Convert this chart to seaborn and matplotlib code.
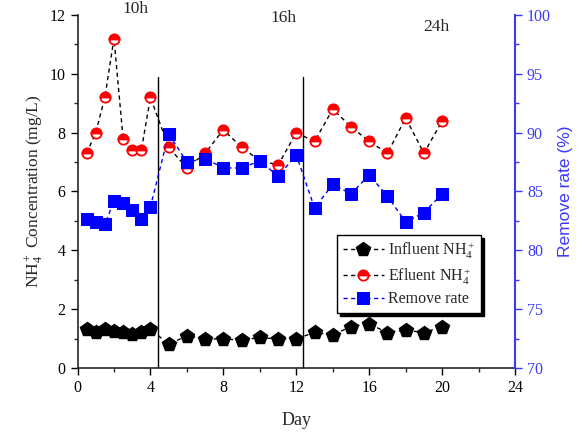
import matplotlib
matplotlib.use("Agg")
import matplotlib.pyplot as plt
import seaborn as sns
import pandas as pd
from matplotlib.ticker import MultipleLocator

# Sampling days and measured series
days = [0.5, 1, 1.5, 2, 2.5, 3, 3.5, 4,
        5, 6, 7, 8, 9, 10, 11, 12, 13, 14, 15, 16, 17, 18, 19, 20]
influent = [1.33, 1.22, 1.33, 1.27, 1.21, 1.16, 1.24, 1.33,
            0.8, 1.1, 0.98, 0.99, 0.94, 1.04, 0.98, 0.99, 1.21, 1.12, 1.41, 1.5, 1.2, 1.29, 1.2, 1.41]
effluent = [7.3, 8.0, 9.2, 11.2, 7.8, 7.4, 7.4, 9.2,
            7.5, 6.8, 7.3, 8.1, 7.5, 7.05, 6.9, 8.0, 7.7, 8.8, 8.2, 7.7, 7.3, 8.5, 7.3, 8.4]
remove_rate = [82.7, 82.4, 82.2, 84.2, 84.0, 83.4, 82.7, 83.7,
               89.9, 87.5, 87.8, 87.0, 87.0, 87.6, 86.3, 88.1, 83.6, 85.6, 84.8, 86.4, 84.6, 82.4, 83.2, 84.8]

# Phase boundaries (hydraulic retention time changes) and labels
phase_days = [4.4, 12.35]
phase_labels = ["10h", "16h", "24h"]
phase_label_x = [3.2, 11.3, 19.7]
phase_label_y = [12.2, 11.9, 11.6]

df = pd.DataFrame({"Day": days, "Influent": influent,
                   "Effluent": effluent, "Remove": remove_rate})

sns.set_theme(style="ticks")
plt.rcParams["font.family"] = ["Liberation Serif", "DejaVu Serif"]
plt.rcParams["mathtext.fontset"] = "custom"
plt.rcParams["mathtext.rm"] = "Liberation Serif"
plt.rcParams["mathtext.it"] = "Liberation Serif:italic"

blue = "#3a3aff"

fig = plt.figure(figsize=(5.85, 4.36), dpi=100)
ax = fig.add_axes([0.1325, 0.156, 0.748, 0.8096])
ax2 = ax.twinx()

dash = (0, (3, 2.5))

l1, = ax.plot(df["Day"], df["Influent"], color="black", linestyle=dash, lw=1,
              marker="p", markersize=10, markerfacecolor="black",
              markeredgecolor="black", label="Influent NH$_4^+$", zorder=3)
l2, = ax.plot(df["Day"], df["Effluent"], color="black", linestyle=dash, lw=1,
              marker="o", markersize=7.4, fillstyle="top", markerfacecolor="red",
              markerfacecoloralt="white", markeredgecolor="red", markeredgewidth=1.3,
              label="Efluent NH$_4^+$", zorder=3)
sns.lineplot(data=df, x="Day", y="Remove", ax=ax2, color=blue, lw=1,
             linestyle="--", dashes=False, marker="s", markersize=8,
             markeredgecolor="blue", markerfacecolor="blue", label="Remove rate",
             legend=False)
l3 = ax2.lines[0]
l3.set_linestyle(dash)
l3.set_color("blue")

for xd in phase_days:
    ax.plot([xd, xd], [0, 9.9], color="black", lw=1, zorder=2)

for lab, lx, ly in zip(phase_labels, phase_label_x, phase_label_y):
    ax.text(lx, ly, lab, fontsize=12.5, ha="center", va="center", clip_on=False)

ax.set_xlim(0, 24)
ax.set_ylim(0, 12)
ax2.set_ylim(70, 100)
ax.xaxis.set_major_locator(MultipleLocator(4))
ax.xaxis.set_minor_locator(MultipleLocator(2))
ax.yaxis.set_major_locator(MultipleLocator(2))
ax.yaxis.set_minor_locator(MultipleLocator(1))
ax2.yaxis.set_major_locator(MultipleLocator(5))
ax2.yaxis.set_minor_locator(MultipleLocator(2.5))

for a in (ax, ax2):
    a.spines["top"].set_visible(False)
ax.spines["right"].set_visible(False)
ax2.spines["left"].set_visible(False)
ax2.spines["bottom"].set_visible(False)
ax2.spines["right"].set_color(blue)
ax2.spines["right"].set_linewidth(1.5)
ax.spines["left"].set_linewidth(1.2)
ax.spines["bottom"].set_linewidth(1.2)

ax.tick_params(axis="both", which="major", direction="out", length=5, width=1,
               labelsize=11.5, colors="black")
ax.tick_params(axis="both", which="minor", direction="out", length=3, width=1)
ax2.tick_params(axis="y", which="major", direction="out", length=5, width=1,
                colors=blue, labelsize=11.5)
ax2.tick_params(axis="y", which="minor", direction="out", length=3, width=1,
                colors=blue)

ax.set_xlabel("Day", fontsize=13, labelpad=12)
ax.set_ylabel("NH$_4^+$ Concentration (mg/L)", fontsize=12.5, labelpad=3)
ax2.set_ylabel("Remove rate (%)", fontsize=12.5, color=blue,
               family=["Liberation Sans", "DejaVu Sans"], labelpad=5)

leg = ax.legend([l1, l2, l3], ["Influent NH$_4^+$", "Efluent NH$_4^+$", "Remove rate"],
                loc="upper left", bbox_to_anchor=(0.575, 0.4), fontsize=11.5,
                frameon=True, fancybox=False, shadow={"color": "black", "alpha": 1},
                edgecolor="black", framealpha=1, handlelength=2.6,
                borderpad=0.35, labelspacing=0.3, handletextpad=0.25)
leg.get_frame().set_linewidth(1)
leg.set_zorder(10)

fig.savefig("out.png", dpi=100)
